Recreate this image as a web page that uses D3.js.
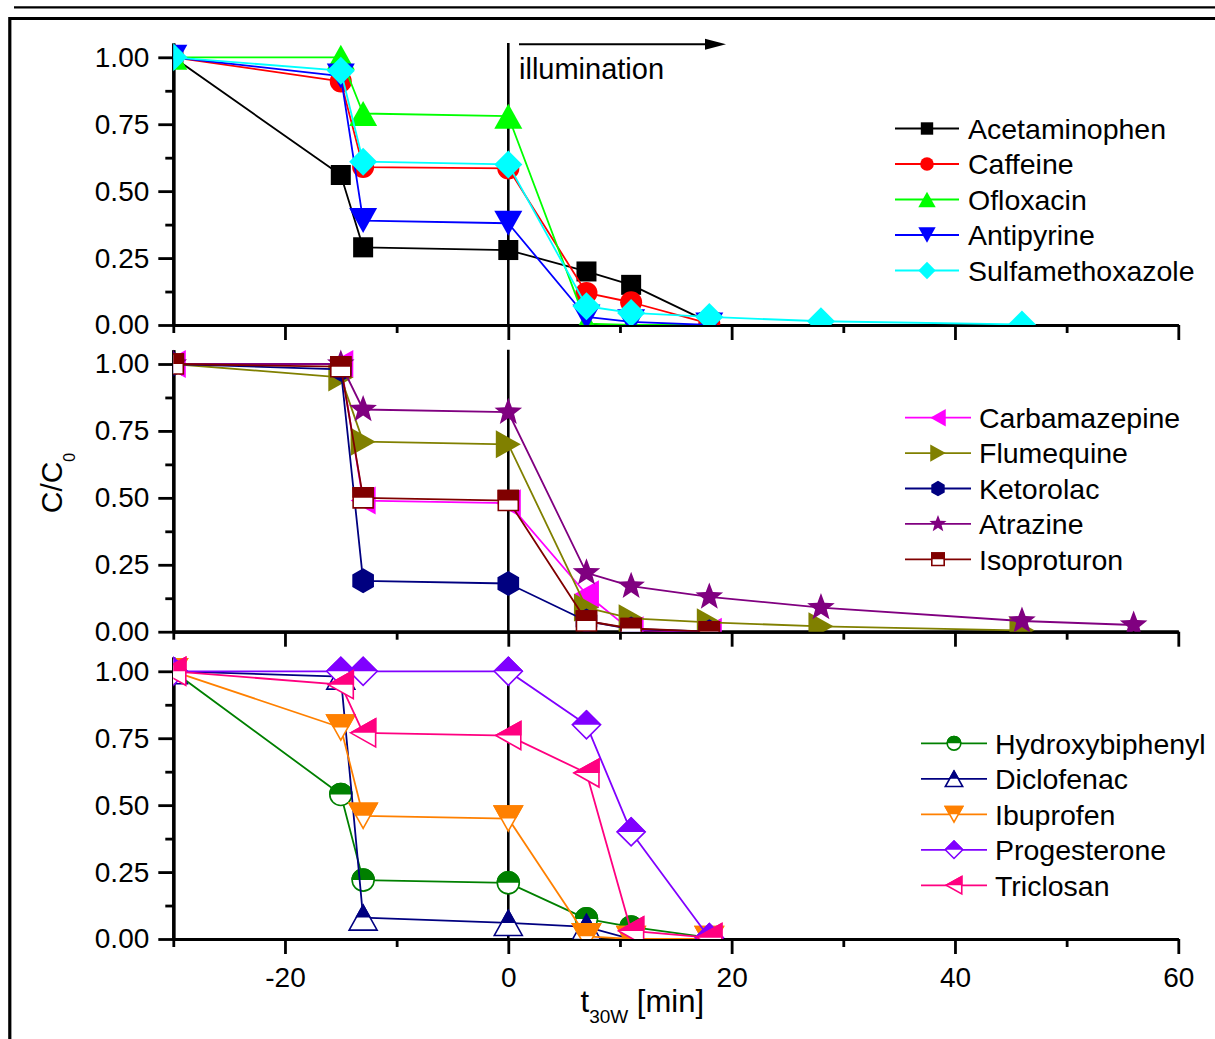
<!DOCTYPE html>
<html><head><meta charset="utf-8">
<script src="https://cdn.jsdelivr.net/npm/d3@7"></script>
<style>
body{margin:0;background:#fff}
svg{display:block}
text{font-family:"Liberation Sans",Arial,sans-serif;fill:#000}
</style>
</head><body>
<svg id="c" width="1215" height="1039"></svg>
<script>
// ---------- data ----------
const tShort = [-30,-15,-13,0,7,11,18];
const tMid   = [-30,-15,-13,0,7,11,18,28,46];
const tLong  = [-30,-15,-13,0,7,11,18,28,46,56];

// panel 1
const acetaminophen    = [1.00,0.56,0.29,0.28,0.20,0.15,0.01];
const caffeine         = [1.00,0.91,0.59,0.585,0.12,0.085,0.005];
const ofloxacin        = [1.00,1.00,0.79,0.78,0.005,0.0,0.0];
const antipyrine       = [1.00,0.93,0.39,0.38,0.03,0.012,0.0];
const sulfamethoxazole = [1.00,0.95,0.61,0.60,0.07,0.045,0.03,0.014,0.002];
// panel 2
const carbamazepine = [1.00,1.00,0.49,0.48,0.14,0.005,0.0];
const flumequine    = [1.00,0.95,0.71,0.70,0.09,0.05,0.035,0.02,0.005];
const ketorolac     = [1.00,0.98,0.19,0.18,0.04,0.01,0.0];
const atrazine      = [1.00,1.00,0.83,0.82,0.22,0.17,0.13,0.09,0.04,0.025];
const isoproturon   = [1.00,0.99,0.50,0.49,0.04,0.012,0.0];
// panel 3
const hydroxybiphenyl = [1.00,0.54,0.22,0.21,0.075,0.045,0.005];
const diclofenac      = [1.00,0.98,0.08,0.06,0.045,0.0,0.0];
const ibuprofen       = [1.00,0.79,0.46,0.45,0.01,0.0,0.0];
const progesterone    = [1.00,1.00,1.00,1.00,0.80,0.40,0.005];
const triclosan       = [1.00,0.95,0.77,0.76,0.62,0.03,0.005];

const yTickLabels = ["0.00","0.25","0.50","0.75","1.00"];
const yTicks = [0,0.25,0.5,0.75,1];
const yMinor = [0.125,0.375,0.625,0.875];
const xTicks = [-20,0,20,40,60];
const xTickLabels = ["-20","0","20","40","60"];
const xMinor = [-30,-10,10,30,50];

const panels = [
  [
    {name:"Acetaminophen", t:tShort, v:acetaminophen, color:"#000000", m:"square", half:false},
    {name:"Caffeine", t:tShort, v:caffeine, color:"#ff0000", m:"circle", half:false},
    {name:"Ofloxacin", t:tShort, v:ofloxacin, color:"#00ff00", m:"up", half:false},
    {name:"Antipyrine", t:tShort, v:antipyrine, color:"#0000ff", m:"down", half:false},
    {name:"Sulfamethoxazole", t:tMid, v:sulfamethoxazole, color:"#00ffff", m:"diamond", half:false}
  ],
  [
    {name:"Carbamazepine", t:tShort, v:carbamazepine, color:"#ff00ff", m:"left", half:false},
    {name:"Flumequine", t:tMid, v:flumequine, color:"#808000", m:"right", half:false},
    {name:"Ketorolac", t:tShort, v:ketorolac, color:"#000080", m:"hex", half:false},
    {name:"Atrazine", t:tLong, v:atrazine, color:"#800080", m:"star", half:false},
    {name:"Isoproturon", t:tShort, v:isoproturon, color:"#800000", m:"square", half:true}
  ],
  [
    {name:"Hydroxybiphenyl", t:tShort, v:hydroxybiphenyl, color:"#008000", m:"circle", half:true},
    {name:"Diclofenac", t:tShort, v:diclofenac, color:"#000080", m:"up", half:true},
    {name:"Ibuprofen", t:tShort, v:ibuprofen, color:"#ff8000", m:"down", half:true},
    {name:"Progesterone", t:tShort, v:progesterone, color:"#8000ff", m:"diamond", half:true},
    {name:"Triclosan", t:tShort, v:triclosan, color:"#ff0080", m:"left", half:true}
  ]
];

// ---------- layout ----------
const svg = d3.select("#c");
const X0 = 173.3, X1 = 1178.3;
const PX = 267.7;          // pixels per unit C/C0
const PH = 282;            // panel axis height
const yMax = PH / PX;
const bottoms = [325, 631.7, 939];
const legends = [
  {lx1:895, lx2:959, tx:968, y0:128.5, dy:35.5},
  {lx1:905, lx2:971, tx:979, y0:417.7, dy:35.4},
  {lx1:921, lx2:987, tx:995, y0:743.3, dy:35.5}
];
const x = d3.scaleLinear().domain([-30,60]).range([X0,X1]);

const defs = svg.append("defs");
defs.append("clipPath").attr("id","tophalf").attr("clipPathUnits","objectBoundingBox")
  .append("rect").attr("x",-0.1).attr("y",-0.1).attr("width",1.2).attr("height",0.6);

function shape(type, k){
  let s;
  switch(type){
    case "square": { s=20*k; const h=s/2; return `M${-h},${-h}H${h}V${h}H${-h}Z`; }
    case "circle": { s=22*k; const h=s/2; return `M${-h},0A${h},${h} 0 1,1 ${h},0A${h},${h} 0 1,1 ${-h},0Z`; }
    case "up":   { const w=14*k, t=12.5*k; return `M0,${-t}L${w},${t}L${-w},${t}Z`; }
    case "down": { const w=14*k, t=12.5*k; return `M0,${t}L${w},${-t}L${-w},${-t}Z`; }
    case "left": { const w=14*k, t=12.5*k; return `M${-t},0L${t},${-w}L${t},${w}Z`; }
    case "right":{ const w=14*k, t=12.5*k; return `M${t},0L${-t},${-w}L${-t},${w}Z`; }
    case "diamond": { const h=14*k; return `M0,${-h}L${h},0L0,${h}L${-h},0Z`; }
    case "hex": { const r=12.5*k; let p=[]; for(let i=0;i<6;i++){const a=(-90+60*i)*Math.PI/180; p.push([r*Math.cos(a), r*Math.sin(a)]);} return "M"+p.map(q=>q.join(",")).join("L")+"Z"; }
    case "star": { const ro=14.5*k, ri=ro*0.42; let p=[]; for(let i=0;i<10;i++){const a=(-90+36*i)*Math.PI/180; const r=i%2?ri:ro; p.push([r*Math.cos(a), r*Math.sin(a)]);} return "M"+p.map(q=>q.join(",")).join("L")+"Z"; }
  }
}

function drawMarker(g, s, cx, cy, k){
  const d = shape(s.m, k);
  const mg = g.append("g").attr("transform",`translate(${cx},${cy})`);
  if(s.half){
    mg.append("path").attr("d",d).attr("fill","#fff").attr("stroke",s.color).attr("stroke-width",1.6);
    mg.append("path").attr("d",d).attr("fill",s.color).attr("stroke",s.color).attr("stroke-width",1.6)
      .attr("clip-path","url(#tophalf)");
  } else {
    mg.append("path").attr("d",d).attr("fill",s.color).attr("stroke","none");
  }
}

// ---------- frame ----------
svg.append("line").attr("x1",14).attr("x2",1215).attr("y1",7.3).attr("y2",7.3)
  .attr("stroke","#000").attr("stroke-width",2.2);
svg.append("path").attr("d","M1215,18.5H9.8V1039").attr("fill","none")
  .attr("stroke","#000").attr("stroke-width",3.2);

// ---------- panels ----------
panels.forEach((series, i) => {
  const yb = bottoms[i];
  const y = d3.scaleLinear().domain([0,yMax]).range([yb, yb-PH]);
  const g = svg.append("g");

  const clipId = "clip"+i;
  defs.append("clipPath").attr("id",clipId).append("rect")
    .attr("x",X0).attr("y",yb-PH-20).attr("width",X1-X0+30).attr("height",PH+20);

  // axes
  const yAx = g.append("g").attr("transform",`translate(${X0},0)`)
    .call(d3.axisLeft(y).tickValues(yTicks).tickSize(15).tickSizeOuter(0).tickPadding(9)
      .tickFormat((d,j)=>yTickLabels[j]));
  const yAxm = g.append("g").attr("transform",`translate(${X0},0)`)
    .call(d3.axisLeft(y).tickValues(yMinor).tickSize(8).tickSizeOuter(0).tickFormat(""));
  const xAx = g.append("g").attr("transform",`translate(0,${yb})`)
    .call(d3.axisBottom(x).tickValues(xTicks).tickSize(15).tickSizeOuter(0).tickPadding(14)
      .tickFormat((d,j)=> i===2 ? xTickLabels[j] : ""));
  const xAxm = g.append("g").attr("transform",`translate(0,${yb})`)
    .call(d3.axisBottom(x).tickValues(xMinor).tickSize(8).tickSizeOuter(0).tickFormat(""));
  [yAx,yAxm,xAx,xAxm].forEach(a=>{
    a.selectAll("path.domain").attr("stroke","#000").attr("stroke-width",3.2);
    a.selectAll(".tick line").attr("stroke","#000").attr("stroke-width",2.8);
    a.selectAll("text").attr("font-size",28).attr("font-family",'"Liberation Sans",Arial,sans-serif').attr("fill","#000");
  });
  xAx.selectAll("text").attr("dy","0.69em");

  // t = 0 line
  g.append("line").attr("x1",x(0)).attr("x2",x(0)).attr("y1",yb-PH).attr("y2",yb)
    .attr("stroke","#000").attr("stroke-width",2.6);

  // data
  const dg = g.append("g").attr("clip-path",`url(#${clipId})`);
  const line = d3.line().x(d=>x(d[0])).y(d=>y(d[1]));
  series.forEach(s=>{
    const pts = s.t.map((t,j)=>[t, s.v[j]]);
    dg.append("path").attr("d",line(pts)).attr("fill","none")
      .attr("stroke",s.color).attr("stroke-width",1.8).attr("stroke-linejoin","round");
    pts.forEach(p=>drawMarker(dg, s, x(p[0]), y(p[1]), 1));
  });

  // legend
  const L = legends[i];
  const lg = svg.append("g");
  series.forEach((s,j)=>{
    const yy = L.y0 + j*L.dy;
    lg.append("line").attr("x1",L.lx1).attr("x2",L.lx2).attr("y1",yy).attr("y2",yy)
      .attr("stroke",s.color).attr("stroke-width",1.8);
    drawMarker(lg, s, (L.lx1+L.lx2)/2, yy, 0.62);
    lg.append("text").attr("x",L.tx).attr("y",yy).attr("dy","0.36em")
      .attr("font-size",28.5).text(s.name);
  });
});

// ---------- annotations ----------
svg.append("line").attr("x1",519).attr("x2",712).attr("y1",44.3).attr("y2",44.3)
  .attr("stroke","#000").attr("stroke-width",2);
svg.append("path").attr("d","M726,44.3L705,38.8L705,49.8Z").attr("fill","#000");
svg.append("text").attr("x",519).attr("y",78.5).attr("font-size",29).text("illumination");

// y title
const yt = svg.append("text").attr("transform","translate(62,483) rotate(-90)")
  .attr("text-anchor","middle").attr("font-size",30);
yt.append("tspan").text("C/C");
yt.append("tspan").attr("font-size",16).attr("dy",13).text("0");

// x title
const xt = svg.append("text").attr("x",580.5).attr("y",1012).attr("font-size",31);
xt.append("tspan").text("t");
xt.append("tspan").attr("font-size",19).attr("dy",11).text("30W");
xt.append("tspan").attr("dy",-11).text(" [min]");
</script>
</body></html>
